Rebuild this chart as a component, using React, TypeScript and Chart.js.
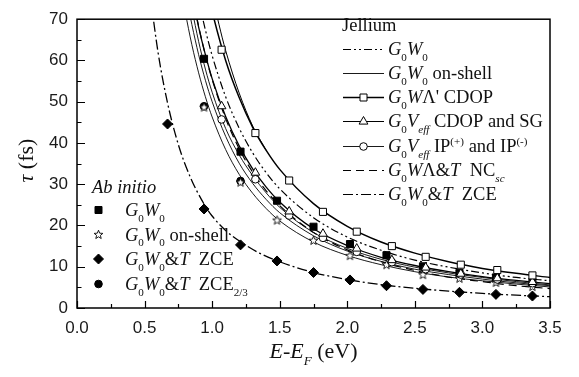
import React, { useEffect, useRef } from 'react';
import { Chart, registerables } from 'chart.js';
Chart.register(...registerables);

// ---------- axes ----------
const X_MIN = 0, X_MAX = 3.5, X_STEP = 0.5;
const Y_MIN = 0, Y_MAX = 70, Y_STEP = 10;

// ---------- ab initio points ----------
const abE = [0.94, 1.21, 1.48, 1.75, 2.02, 2.29, 2.56, 2.83, 3.10, 3.37];
const abG0W0 = [60.4, 37.9, 26.0, 19.7, 15.5, 12.8, 10.1, 8.5, 7.4, 6.3];
const abOnShell = [48.7, 30.5, 21.3, 16.4, 12.7, 10.5, 8.1, 7.2, 6.2, 5.2];
const abZceE = [0.67, 0.94, 1.21, 1.48, 1.75, 2.02, 2.29, 2.56, 2.83, 3.10, 3.37];
const abZce = [44.6, 24.0, 15.3, 11.4, 8.6, 6.8, 5.4, 4.5, 3.8, 3.3, 2.9];
const abZce23E = [0.94, 1.21];
const abZce23 = [48.9, 30.8];

// ---------- jellium markers ----------
const jelE = [1.07, 1.32, 1.57, 1.82, 2.07, 2.33, 2.58, 2.84, 3.11, 3.37];
const jelCdopSq = [62.6, 42.4, 30.9, 23.3, 18.5, 15.0, 12.4, 10.5, 9.2, 7.9];
const jelSgTri = [48.9, 32.8, 23.4, 18.0, 14.4, 11.6, 9.8, 8.3, 7.2, 6.3];
const jelIpCirc = [45.7, 31.2, 22.4, 17.0, 13.6, 11.1, 9.4, 8.1, 6.9, 6.0];

// ---------- jellium curves ----------
const curveCdopE = [0.95, 1.0, 1.1, 1.2, 1.3, 1.4, 1.5, 1.75, 2.0, 2.25, 2.5, 2.75, 3.0, 3.25, 3.5];
const curveCdop = [79.2, 71.9, 60.0, 51.0, 43.8, 38.2, 33.6, 25.3, 19.8, 16.0, 13.3, 11.2, 9.6, 8.4, 7.4];
const curveAltE = [1.0, 1.05, 1.1, 1.2, 1.3, 1.4];
const curveAlt = [76.0, 68.8, 62.4, 52.1, 44.1, 38.2];
const curveG0W0E = [0.9, 0.95, 1.0, 1.1, 1.2, 1.3, 1.4, 1.5, 1.75, 2.0, 2.25, 2.5, 2.75, 3.0, 3.25, 3.5];
const curveG0W0 = [74.6, 67.4, 61.2, 51.2, 43.6, 37.6, 32.8, 28.9, 21.9, 17.2, 14.0, 11.6, 9.9, 8.5, 7.4, 6.6];
const gridE = [0.85, 0.9, 0.95, 1.0, 1.1, 1.2, 1.3, 1.4, 1.5, 1.75, 2.0, 2.25, 2.5, 2.75, 3.0, 3.25, 3.5];
const curveSG = [76.1, 68.1, 61.4, 55.6, 46.4, 39.3, 33.7, 29.3, 25.7, 19.2, 15.15, 12.3, 10.3, 8.8, 7.6, 6.7, 5.9];
const curveIPa = [72.5, 64.6, 57.9, 52.3, 43.5, 37.1, 32.1, 27.9, 24.4, 18.3, 14.45, 11.8, 9.9, 8.5, 7.4, 6.4, 5.6];
const curveNC = [76.5, 68.3, 61.3, 55.4, 45.9, 38.6, 32.9, 28.4, 24.8, 18.3, 14.1, 11.2, 9.1, 7.5, 6.4, 5.4, 4.7];
const curveIPbE = [0.82, 0.85, 0.9, 0.95, 1.0, 1.1, 1.2, 1.3, 1.4, 1.5, 1.75, 2.0, 2.25, 2.5, 2.75, 3.0, 3.25, 3.5];
const curveIPb = [73.6, 68.7, 61.4, 55.2, 50.0, 41.6, 35.1, 30.2, 26.3, 23.1, 17.5, 13.8, 11.3, 9.4, 8.1, 7.0, 6.1, 5.4];
const curveOnShellE = [0.78, 0.8, 0.85, 0.9, 0.95, 1.0, 1.1, 1.2, 1.3, 1.4, 1.5, 1.75, 2.0, 2.25, 2.5, 2.75, 3.0, 3.25, 3.5];
const curveOnShell = [75.6, 71.9, 63.8, 57.0, 51.2, 46.3, 38.4, 32.4, 27.8, 24.1, 21.1, 16.0, 12.75, 10.5, 8.8, 7.5, 6.6, 5.8, 5.1];
const curveZceE = [0.55, 0.6, 0.67, 0.75, 0.84, 0.94, 1.0, 1.1, 1.21, 1.35, 1.5, 1.75, 2.0, 2.25, 2.5, 2.75, 3.0, 3.25, 3.5];
const curveZce = [73.7, 61.9, 49.7, 39.6, 31.6, 25.2, 22.3, 18.8, 16.05, 13.3, 11.2, 8.6, 6.9, 5.65, 4.77, 4.09, 3.54, 3.1, 2.75];

// ---------- styles ----------
const DASH_DOT_DOT = [8, 3, 2, 3, 2, 3];
const DASH_DOT = [10, 3, 2, 3];
const DASHED = [8, 5];
const SERIF = '"Liberation Serif", "Times New Roman", Times, serif';
const SANS = '"Liberation Sans", Arial, Helvetica, sans-serif';

type Seg = { t: string; it?: boolean; sub?: boolean; sup?: boolean };
const G0: Seg[] = [{ t: 'G', it: true }, { t: '0', sub: true }];
const W0: Seg[] = [{ t: 'W', it: true }, { t: '0', sub: true }];

const jelLegend: { segs: Seg[]; dash: number[]; width: number; marker?: string }[] = [
  { segs: [...G0, ...W0], dash: DASH_DOT_DOT, width: 1.2 },
  { segs: [...G0, ...W0, { t: ' on-shell' }], dash: [], width: 0.9 },
  { segs: [...G0, { t: 'W', it: true }, { t: "Λ' CDOP" }], dash: [], width: 1.4, marker: 'sq' },
  { segs: [...G0, { t: 'V', it: true }, { t: 'eff', it: true, sub: true }, { t: ' CDOP and SG' }], dash: [], width: 1.2, marker: 'tri' },
  { segs: [...G0, { t: 'V', it: true }, { t: 'eff', it: true, sub: true }, { t: ' IP' }, { t: '(+)', sup: true }, { t: ' and IP' }, { t: '(-)', sup: true }], dash: [], width: 0.9, marker: 'circ' },
  { segs: [...G0, { t: 'W', it: true }, { t: 'Λ&' }, { t: 'T', it: true }, { t: '  NC' }, { t: 'sc', it: true, sub: true }], dash: DASHED, width: 1.2 },
  { segs: [...G0, ...W0, { t: '&' }, { t: 'T', it: true }, { t: '  ZCE' }], dash: DASH_DOT, width: 1.2 },
];
const abLegend: { segs: Seg[]; marker: string }[] = [
  { segs: [...G0, ...W0], marker: 'fsq' },
  { segs: [...G0, ...W0, { t: ' on-shell' }], marker: 'star' },
  { segs: [...G0, ...W0, { t: '&' }, { t: 'T', it: true }, { t: '  ZCE' }], marker: 'dia' },
  { segs: [...G0, ...W0, { t: '&' }, { t: 'T', it: true }, { t: '  ZCE' }, { t: '2/3', sub: true }], marker: 'fcirc' },
];

function richWidth(ctx: CanvasRenderingContext2D, segs: Seg[], size: number) {
  let w = 0;
  for (const s of segs) {
    const fs = s.sub || s.sup ? size * 0.6 : size;
    ctx.font = `${s.it ? 'italic ' : ''}${fs}px ${SERIF}`;
    w += ctx.measureText(s.t).width;
  }
  return w;
}
function drawRich(ctx: CanvasRenderingContext2D, segs: Seg[], x: number, y: number, size: number) {
  let cx = x;
  ctx.textBaseline = 'alphabetic';
  ctx.textAlign = 'left';
  for (const s of segs) {
    const fs = s.sub || s.sup ? size * 0.6 : size;
    ctx.font = `${s.it ? 'italic ' : ''}${fs}px ${SERIF}`;
    const dy = s.sub ? size * 0.3 : s.sup ? -size * 0.4 : 0;
    ctx.fillText(s.t, cx, y + dy);
    cx += ctx.measureText(s.t).width;
  }
}

function makeStar(): HTMLCanvasElement {
  const c = document.createElement('canvas');
  c.width = 11; c.height = 11;
  const g = c.getContext('2d')!;
  g.beginPath();
  for (let i = 0; i < 10; i++) {
    const r = i % 2 ? 2.0 : 4.6;
    const a = -Math.PI / 2 + (i * Math.PI) / 5;
    const px = 5.5 + r * Math.cos(a), py = 5.8 + r * Math.sin(a);
    if (i === 0) g.moveTo(px, py); else g.lineTo(px, py);
  }
  g.closePath();
  g.fillStyle = '#fff';
  g.fill();
  g.lineWidth = 0.9;
  g.strokeStyle = '#000';
  g.stroke();
  return c;
}

function drawMarker(ctx: CanvasRenderingContext2D, kind: string, x: number, y: number, star: HTMLCanvasElement) {
  ctx.save();
  ctx.setLineDash([]);
  ctx.lineWidth = 1;
  ctx.strokeStyle = '#000';
  ctx.beginPath();
  if (kind === 'sq' || kind === 'fsq') {
    ctx.rect(x - 3.5, y - 3.5, 7, 7);
  } else if (kind === 'tri') {
    ctx.moveTo(x, y - 5); ctx.lineTo(x + 4.4, y + 2.6); ctx.lineTo(x - 4.4, y + 2.6); ctx.closePath();
  } else if (kind === 'circ' || kind === 'fcirc') {
    ctx.arc(x, y, kind === 'circ' ? 3.8 : 3.8, 0, Math.PI * 2);
  } else if (kind === 'dia') {
    ctx.moveTo(x, y - 5); ctx.lineTo(x + 5, y); ctx.lineTo(x, y + 5); ctx.lineTo(x - 5, y); ctx.closePath();
  } else if (kind === 'star') {
    ctx.drawImage(star, x - star.width / 2, y - star.height / 2);
    ctx.restore();
    return;
  }
  const filled = kind.startsWith('f') || kind === 'dia';
  ctx.fillStyle = filled ? '#000' : '#fff';
  ctx.fill();
  ctx.stroke();
  ctx.restore();
}

const pts = (xs: number[], ys: number[]) => xs.map((x, i) => ({ x, y: ys[i] }));

export default function App() {
  const ref = useRef<HTMLCanvasElement>(null);
  useEffect(() => {
    const canvas = ref.current!;
    const star = makeStar();

    const curve = (data: { x: number; y: number }[], dash: number[], width: number) => ({
      data, showLine: true, borderColor: '#000', borderWidth: width, borderDash: dash,
      pointRadius: 0, pointHoverRadius: 0, fill: false, cubicInterpolationMode: 'monotone' as const,
    });
    const marks = (data: { x: number; y: number }[], style: any, radius: number, filled: boolean) => ({
      data, showLine: false, pointStyle: style, pointRadius: radius, pointHoverRadius: radius,
      pointBackgroundColor: filled ? '#000' : '#fff', pointBorderColor: '#000', pointBorderWidth: 1,
    });

    const framePlugin = {
      id: 'frame',
      afterDraw(chart: any) {
        const ctx: CanvasRenderingContext2D = chart.ctx;
        const { left, right, top, bottom } = chart.chartArea;
        const xs = chart.scales.x, ys = chart.scales.y;
        ctx.save();
        ctx.strokeStyle = '#000';
        ctx.fillStyle = '#111';
        ctx.setLineDash([]);
        ctx.lineWidth = 1.5;
        ctx.strokeRect(left, top, right - left, bottom - top);
        // inward ticks
        ctx.lineWidth = 1.2;
        ctx.beginPath();
        for (let v = X_MIN; v <= X_MAX + 1e-9; v += X_STEP / 2) {
          const major = Math.abs(v / X_STEP - Math.round(v / X_STEP)) < 1e-6;
          const px = Math.round(xs.getPixelForValue(v)) + 0.5;
          ctx.moveTo(px, bottom); ctx.lineTo(px, bottom - (major ? 7 : 4));
        }
        for (let v = Y_MIN; v <= Y_MAX + 1e-9; v += Y_STEP / 2) {
          const major = Math.abs(v / Y_STEP - Math.round(v / Y_STEP)) < 1e-6;
          const py = Math.round(ys.getPixelForValue(v)) + 0.5;
          ctx.moveTo(left, py); ctx.lineTo(left + (major ? 8 : 4.5), py);
        }
        ctx.stroke();

        // x title
        const xt: Seg[] = [{ t: 'E', it: true }, { t: '-' }, { t: 'E', it: true }, { t: 'F', it: true, sub: true }, { t: ' (eV)' }];
        const xw = richWidth(ctx, xt, 22);
        drawRich(ctx, xt, (left + right) / 2 - xw / 2, 358, 22);
        // y title
        const yt: Seg[] = [{ t: 'τ', it: true }, { t: ' (fs)' }];
        const yw = richWidth(ctx, yt, 22);
        ctx.save();
        ctx.translate(33, (top + bottom) / 2 - 3);
        ctx.rotate(-Math.PI / 2);
        drawRich(ctx, yt, -yw / 2, 0, 22);
        ctx.restore();

        // Jellium legend
        const LS = 18.5;
        ctx.font = `${LS}px ${SERIF}`;
        ctx.textAlign = 'left';
        ctx.textBaseline = 'alphabetic';
        ctx.fillText('Jellium', 342, 31);
        const rows = [49, 73, 97, 121, 146, 170, 194];
        jelLegend.forEach((e, i) => {
          const y = rows[i];
          ctx.save();
          ctx.lineWidth = e.width;
          ctx.setLineDash(e.dash);
          ctx.beginPath();
          ctx.moveTo(343, y + 0.5); ctx.lineTo(384, y + 0.5);
          ctx.stroke();
          ctx.restore();
          if (e.marker) drawMarker(ctx, e.marker, 363.5, y + 0.5, star);
          ctx.fillStyle = '#111';
          drawRich(ctx, e.segs, 388, y + 6, LS);
        });

        // Ab initio legend
        ctx.fillStyle = '#111';
        ctx.font = `italic ${LS}px ${SERIF}`;
        ctx.fillText('Ab initio', 92, 193);
        const arows = [210, 234.5, 259, 284];
        abLegend.forEach((e, i) => {
          const y = arows[i];
          drawMarker(ctx, e.marker, 98.5, y, star);
          ctx.fillStyle = '#111';
          drawRich(ctx, e.segs, 125, y + 6, LS);
        });
        ctx.restore();
      },
    };

    const chart = new Chart(canvas, {
      type: 'scatter',
      data: {
        datasets: [
          marks(pts(jelE, jelCdopSq), 'rect', 5, false),
          marks(pts(jelE, jelSgTri), 'triangle', 5, false),
          marks(pts(jelE, jelIpCirc), 'circle', 3.8, false),
          marks(pts(abE, abG0W0), 'rect', 5, true),
          marks(pts(abE, abOnShell), star, 5, false),
          marks(pts(abZceE, abZce), 'rectRot', 5, true),
          marks(pts(abZce23E, abZce23), 'circle', 3.8, true),
          curve(pts(curveCdopE, curveCdop), [], 1.5),
          curve(pts(curveAltE, curveAlt), [], 1.0),
          curve(pts(curveG0W0E, curveG0W0), DASH_DOT_DOT, 1.2),
          curve(pts(gridE, curveSG), [], 1.3),
          curve(pts(gridE, curveIPa), [], 0.9),
          curve(pts(gridE, curveNC), DASHED, 1.2),
          curve(pts(curveIPbE, curveIPb), [], 0.9),
          curve(pts(curveOnShellE, curveOnShell), [], 0.9),
          curve(pts(curveZceE, curveZce), DASH_DOT, 1.3),
        ] as any,
      },
      options: {
        animation: false,
        responsive: false,
        devicePixelRatio: 1,
        events: [],
        layout: { padding: { left: 0, right: 29, top: 10, bottom: 0 } },
        plugins: { legend: { display: false }, tooltip: { enabled: false } },
        scales: {
          x: {
            type: 'linear', min: X_MIN, max: X_MAX,
            afterFit: (s: any) => { s.height = 69; },
            grid: { display: false, drawTicks: false },
            border: { display: false },
            ticks: { stepSize: X_STEP, padding: 10, color: '#1a1a1a', font: { family: SANS, size: 17 },
              callback: (v: any) => Number(v).toFixed(1) },
          },
          y: {
            type: 'linear', min: Y_MIN, max: Y_MAX,
            afterFit: (s: any) => { s.width = 77; },
            grid: { display: false, drawTicks: false },
            border: { display: false },
            ticks: { stepSize: Y_STEP, padding: 9, color: '#1a1a1a', font: { family: SANS, size: 17 },
              callback: (v: any) => String(v) },
          },
        },
      } as any,
      plugins: [framePlugin],
    });
    return () => chart.destroy();
  }, []);

  return (
    <div style={{ position: 'fixed', left: 0, top: 0, width: 579, height: 377, background: '#fff' }}>
      <canvas ref={ref} width={579} height={377} style={{ display: 'block' }} />
    </div>
  );
}
